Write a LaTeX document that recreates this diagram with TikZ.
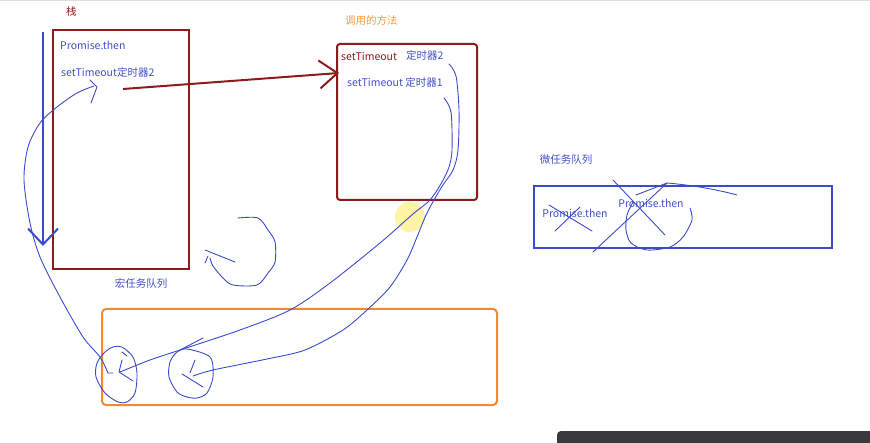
\documentclass[tikz,border=0pt]{standalone}
\usepackage{fontspec}
\setmainfont{Noto Sans CJK SC}
\usetikzlibrary{arrows.meta, positioning}

\definecolor{stackred}{HTML}{8E1B1B}
\definecolor{penblue}{HTML}{3B4BCB}
\definecolor{textblue}{HTML}{4050C8}
\definecolor{queueorange}{HTML}{F7882C}
\definecolor{titleorange}{HTML}{F59A3A}
\definecolor{bargray}{HTML}{3A3A3C}

\tikzset{
  txt/.style={inner sep=0pt, anchor=west, font=\fontsize{10.5}{12}\selectfont},
  bluetxt/.style={txt, text=textblue},
  redbox/.style={draw=stackred, line width=2pt},
  hand/.style={draw=penblue, line width=0.9pt, line cap=round, line join=round}
}

\begin{document}
\begin{tikzpicture}[x=1pt, y=-1pt]
\useasboundingbox (0,0) rectangle (870,443);
\fill[gray!25] (0,0) rectangle (870,1.5);

% call stack
\node[txt, text=stackred] (stacklbl) at (66,12) {栈};
\node[redbox, minimum width=136pt, minimum height=239pt] (stack) at (121,149.5) {};
\node[bluetxt] (sthen) at (60,45) {Promise.then};
\node[bluetxt] (stimer) at (61,72) {setTimeout定时器2};
\node[bluetxt, anchor=center] (macrolbl) at (141,283) {宏任务队列};
\coordinate (stacktop) at (43,32);
\coordinate (stackbot) at (43,246);
\draw[penblue, line width=2.5pt, -{Straight Barb[length=16pt, width=30pt, line width=2pt]}] (stacktop) -- (stackbot);

% called methods
\node[txt, text=titleorange] (calllbl) at (345,21) {调用的方法};
\node[redbox, rounded corners=3pt, minimum width=140pt, minimum height=156pt] (call) at (407,122) {};
\node[txt, text=stackred] (csettime) at (341,57) {setTimeout};
\node[bluetxt] (ctimer2) at (406,55) {定时器2};
\node[bluetxt] (ctimer1) at (347,82) {setTimeout 定时器1};
\coordinate (tmout) at (123,89);
\coordinate (callin) at (339,73);
\draw[stackred, line width=2pt, -{Straight Barb[length=18pt, width=28pt, line width=2pt]}] (tmout) -- (callin);
\node[circle, fill=yellow!80!orange, opacity=0.35, minimum size=30pt, inner sep=0pt] (cursor) at (410,217) {};

% micro task queue
\node[bluetxt, anchor=center] (microlbl) at (566,160) {微任务队列};
\node[draw=penblue, line width=2pt, minimum width=298pt, minimum height=62pt] (micro) at (683,217) {};
\node[bluetxt, anchor=center] (mthen1) at (575,213) {Promise.then};
\node[bluetxt, anchor=center] (mthen2) at (651,203) {Promise.then};
\draw[hand] (549,205) -- (592,231) (555,231) -- (580,207);
\draw[hand] (613,180) -- (665,235);
\draw[hand] (593,252) -- (667,183) (636,195) -- (667,183);
\draw[hand] (667,183) .. controls (690,185) and (715,189) .. (737,195);
\draw[hand] plot[smooth] coordinates {(633,202) (627,215) (626,230) (631,243) (647,250) (670,247) (683,237) (692,220) (690,208)};

% macro task queue
\node[draw=queueorange, line width=2pt, rounded corners=4pt, minimum width=395pt, minimum height=96pt] (macro) at (299.5,357) {};
\coordinate (circA) at (120,372);
\coordinate (circB) at (193,376);
\draw[hand] plot[smooth cycle] coordinates {(122,347) (133,357) (137,373) (135,393) (127,402) (118,402) (105,393) (96,377) (97,363) (105,352) (113,347)};
\draw[hand] plot[smooth cycle] coordinates {(187,349) (210,357) (213,377) (207,393) (197,398) (187,397) (177,392) (169,377) (170,362) (177,352)};
\draw[hand] (122,352) -- (127,356) (122,360) -- (119,372) -- (133,381);
\draw[hand] (195,360) -- (190,373) (182,374) -- (203,387);

% hand drawn connectors
\coordinate (hookA) at (94,86);
\draw[hand] plot[smooth] coordinates {(hookA) (77,93) (57,107) (40,123) (28,147) (24,180) (30,223) (40,257) (60,297) (83,337) (100,357) (108,373)};
\draw[hand] (90,80) -- (97,87) -- (91,103) (108,373) -- (113,373);
\coordinate (fromT1) at (444,98);
\coordinate (fromT2) at (449,64);
\draw[hand] plot[smooth] coordinates {(fromT1) (451,112) (452,150) (449,167) (442,182) (430,200) (413,214) (380,243) (330,283) (290,310) (240,330) (180,350) (150,360) (circA)};
\draw[hand] plot[smooth] coordinates {(fromT2) (456,76) (459,110) (458,150) (453,170) (441,188) (427,213) (417,237) (407,260) (390,287) (367,310) (343,330) (305,350) (267,359) (213,370) (circB)};
\draw[hand] (180,350) -- (203,338);

% loop sketch
\draw[hand] plot[smooth] coordinates {(238,218) (258,218) (268,230) (275,242) (275,262) (268,273) (257,285) (233,285) (223,278) (213,266) (210,258)};
\draw[hand] (205,250) -- (235,262) (208,256) -- (205,263);

% toolbar
\fill[bargray, rounded corners=4pt] (557,431) rectangle (880,450);
\end{tikzpicture}
\end{document}
